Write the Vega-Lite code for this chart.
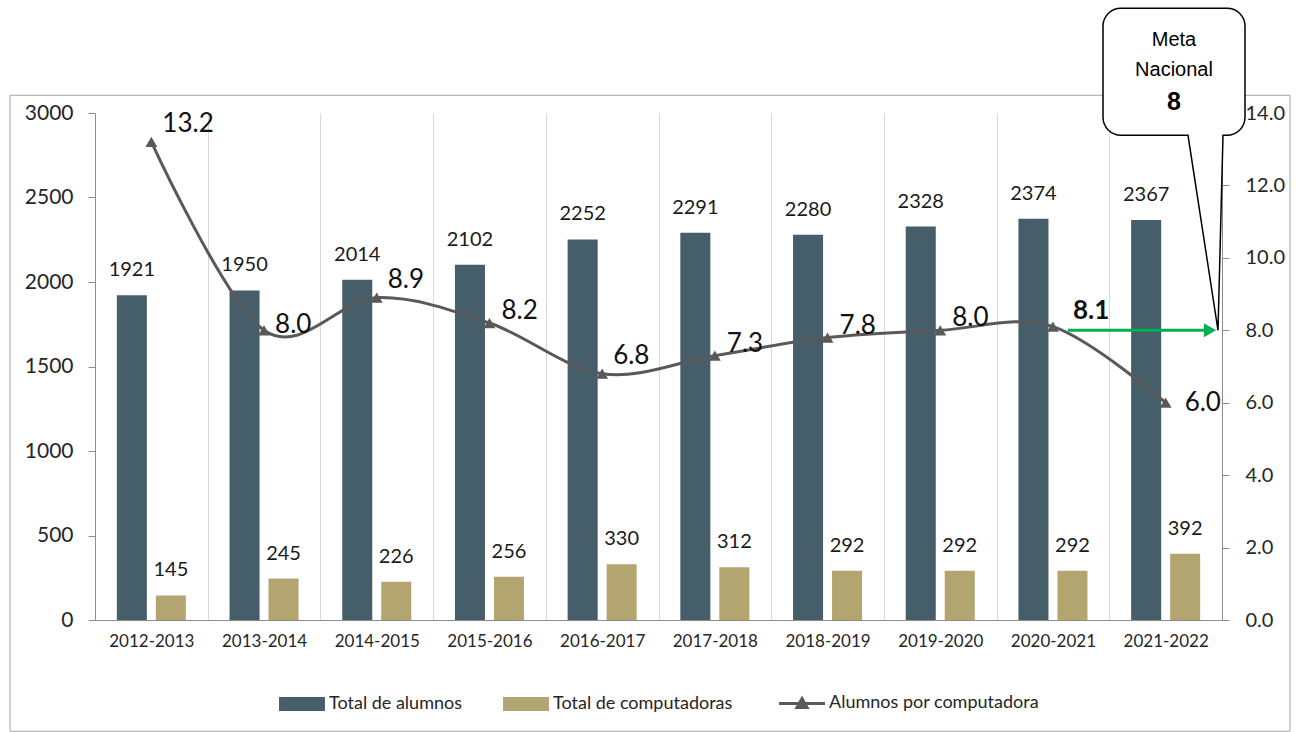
{
  "$schema": "https://vega.github.io/schema/vega-lite/v6.json",
  "width": 1127,
  "height": 507,
  "autosize": {"type": "none"},
  "padding": {"left": 95, "top": 113, "right": 77, "bottom": 112},
  "background": "#ffffff",
  "config": {"view": {"stroke": null}, "font": "Lato", "text": {"font": "Lato"}},
  "datasets": {
    "datos": [
      {"periodo": "2012-2013", "alumnos": 1921, "computadoras": 145, "ratio": 13.2},
      {"periodo": "2013-2014", "alumnos": 1950, "computadoras": 245, "ratio": 8.0},
      {"periodo": "2014-2015", "alumnos": 2014, "computadoras": 226, "ratio": 8.9},
      {"periodo": "2015-2016", "alumnos": 2102, "computadoras": 256, "ratio": 8.2},
      {"periodo": "2016-2017", "alumnos": 2252, "computadoras": 330, "ratio": 6.8},
      {"periodo": "2017-2018", "alumnos": 2291, "computadoras": 312, "ratio": 7.3},
      {"periodo": "2018-2019", "alumnos": 2280, "computadoras": 292, "ratio": 7.8},
      {"periodo": "2019-2020", "alumnos": 2328, "computadoras": 292, "ratio": 8.0},
      {"periodo": "2020-2021", "alumnos": 2374, "computadoras": 292, "ratio": 8.1},
      {"periodo": "2021-2022", "alumnos": 2367, "computadoras": 392, "ratio": 6.0}
    ],
    "meta": [
      {"periodo": "2021-2022", "desde": "2020-2021", "hasta": "2021-2022", "ratio": 8}
    ]
  },
  "data": {"name": "datos"},
  "encoding": {
    "x": {
      "field": "periodo", "type": "nominal", "sort": null, "title": null,
      "scale": {"domain": ["2012-2013","2013-2014","2014-2015","2015-2016","2016-2017","2017-2018","2018-2019","2019-2020","2020-2021","2021-2022"], "paddingInner": 0, "paddingOuter": 0},
      "axis": {"tickBand": "extent", "grid": true, "gridColor": "#D9D9D9", "gridWidth": 1, "ticks": false, "tickSize": 0, "domainColor": "#8C8C8C", "labelAngle": 0, "labelFontSize": 17, "labelColor": "#262626", "labelPadding": 13}
    }
  },
  "layer": [
    {
      "transform": [{"fold": ["alumnos", "computadoras"], "as": ["serie", "valor"]}],
      "encoding": {
        "xOffset": {"field": "serie", "type": "nominal", "scale": {"domain": ["alumnos", "computadoras"], "paddingInner": 0.23, "paddingOuter": 0.56}},
        "y": {
          "field": "valor", "type": "quantitative", "title": null,
          "scale": {"domain": [0, 3000], "nice": false},
          "axis": {"orient": "left", "values": [0,500,1000,1500,2000,2500,3000], "format": "d", "grid": false, "domainColor": "#8C8C8C", "tickColor": "#8C8C8C", "tickSize": 7, "labelPadding": 15, "labelFontSize": 21, "labelColor": "#262626"}
        }
      },
      "layer": [
        {
          "mark": {"type": "bar"},
          "encoding": {
            "color": {
              "field": "serie", "type": "nominal",
              "scale": {"domain": ["alumnos", "computadoras", "ratio"], "range": ["#465E69", "#B2A56F", "#595959"]},
              "legend": {
                "orient": "none", "legendX": 198, "legendY": 581, "direction": "horizontal", "title": null,
                "labelFontSize": 18, "labelColor": "#262626", "labelFont": "Lato", "labelLimit": 400,
                "symbolSize": 784, "labelOffset": 18, "columnPadding": 40,
                "labelExpr": "datum.value === 'alumnos' ? 'Total de alumnos' : datum.value === 'computadoras' ? 'Total de computadoras' : 'Alumnos por computadora'",
                "encode": {
                  "symbols": {
                    "update": {
                      "shape": {"signal": "datum.value === 'ratio' ? 'M-1.64,0L1.64,0M-0.36,0.3L0,-0.34L0.36,0.3Z' : 'M-1.64,-0.5L1.64,-0.5L1.64,0.5L-1.64,0.5Z'"},
                      "fill": {"signal": "datum.value === 'alumnos' ? '#465E69' : datum.value === 'computadoras' ? '#B2A56F' : '#595959'"},
                      "stroke": {"signal": "datum.value === 'ratio' ? '#595959' : 'transparent'"},
                      "strokeWidth": {"signal": "datum.value === 'ratio' ? 3 : 0"},
                      "opacity": {"value": 1},
                      "fillOpacity": {"value": 1},
                      "strokeOpacity": {"value": 1}
                    }
                  }
                }
              }
            }
          }
        },
        {
          "mark": {"type": "text", "dy": -25, "fontSize": 20, "baseline": "middle", "align": "center", "color": "#1a1a1a"},
          "encoding": {"text": {"field": "valor", "type": "quantitative", "format": "d"}}
        }
      ]
    },
    {
      "encoding": {
        "y": {
          "field": "ratio", "type": "quantitative", "title": null,
          "scale": {"domain": [0, 14], "nice": false},
          "axis": {"orient": "right", "values": [0,2,4,6,8,10,12,14], "format": ".1f", "grid": false, "domainColor": "#8C8C8C", "tickColor": "#8C8C8C", "tickSize": 7, "labelPadding": 16, "labelFontSize": 20, "labelColor": "#262626"}
        }
      },
      "layer": [
        {
          "mark": {"type": "line", "interpolate": "cardinal", "strokeWidth": 3},
          "encoding": {"color": {"datum": "ratio", "type": "nominal"}}
        },
        {
          "mark": {"type": "point", "shape": "triangle-up", "filled": true, "size": 140, "opacity": 1},
          "encoding": {"color": {"datum": "ratio", "type": "nominal"}}
        },
        {
          "transform": [{"filter": {"field": "periodo", "oneOf": ["2012-2013", "2014-2015", "2016-2017"]}}],
          "mark": {"type": "text", "align": "left", "baseline": "middle", "dx": 11, "dy": -18, "fontSize": 26, "color": "#111111"},
          "encoding": {"text": {"field": "ratio", "type": "quantitative", "format": ".1f"}}
        },
        {
          "transform": [{"filter": {"field": "periodo", "oneOf": ["2015-2016", "2017-2018", "2018-2019", "2019-2020"]}}],
          "mark": {"type": "text", "align": "left", "baseline": "middle", "dx": 12, "dy": -12, "fontSize": 26, "color": "#111111"},
          "encoding": {"text": {"field": "ratio", "type": "quantitative", "format": ".1f"}}
        },
        {
          "transform": [{"filter": {"field": "periodo", "oneOf": ["2013-2014"]}}],
          "mark": {"type": "text", "align": "left", "baseline": "middle", "dx": 11, "dy": -5, "fontSize": 26, "color": "#111111"},
          "encoding": {"text": {"field": "ratio", "type": "quantitative", "format": ".1f"}}
        },
        {
          "transform": [{"filter": {"field": "periodo", "oneOf": ["2020-2021"]}}],
          "mark": {"type": "text", "align": "left", "baseline": "middle", "dx": 20, "dy": -16, "fontSize": 26, "fontWeight": "bold", "color": "#111111"},
          "encoding": {"text": {"field": "ratio", "type": "quantitative", "format": ".1f"}}
        },
        {
          "transform": [{"filter": {"field": "periodo", "oneOf": ["2021-2022"]}}],
          "mark": {"type": "text", "align": "left", "baseline": "middle", "dx": 19, "dy": 0, "fontSize": 26, "color": "#111111"},
          "encoding": {"text": {"field": "ratio", "type": "quantitative", "format": ".1f"}}
        },
        {
          "data": {"name": "meta"},
          "mark": {"type": "rule", "color": "#00B050", "strokeWidth": 3, "xOffset": 15, "x2Offset": 39},
          "encoding": {
            "x": {"field": "desde", "type": "nominal", "title": null, "scale": {"domain": ["2012-2013","2013-2014","2014-2015","2015-2016","2016-2017","2017-2018","2018-2019","2019-2020","2020-2021","2021-2022"], "paddingInner": 0, "paddingOuter": 0}},
            "x2": {"field": "hasta"}
          }
        },
        {
          "data": {"name": "meta"},
          "mark": {"type": "point", "shape": "triangle-right", "size": 200, "filled": true, "color": "#00B050", "opacity": 1, "xOffset": -12},
          "encoding": {
            "x": {"field": "periodo", "type": "nominal", "title": null, "bandPosition": 1, "scale": {"domain": ["2012-2013","2013-2014","2014-2015","2015-2016","2016-2017","2017-2018","2018-2019","2019-2020","2020-2021","2021-2022"], "paddingInner": 0, "paddingOuter": 0}}
          }
        },
        {
          "data": {"name": "meta"},
          "mark": {"type": "point", "shape": "M-1212,-235L68,-235L68,401L-1212,401Z", "size": 4, "filled": false, "stroke": "#A6A6A6", "strokeWidth": 1, "opacity": 1},
          "encoding": {
            "x": {"field": "periodo", "type": "nominal", "title": null, "bandPosition": 1, "scale": {"domain": ["2012-2013","2013-2014","2014-2015","2015-2016","2016-2017","2017-2018","2018-2019","2019-2020","2020-2021","2021-2022"], "paddingInner": 0, "paddingOuter": 0}}
          }
        },
        {
          "data": {"name": "meta"},
          "mark": {"type": "point", "shape": "M-101,-322L5,-322A18,18,0,0,1,23,-304L23,-213A18,18,0,0,1,5,-195L1,-195L-4,0L-34,-195L-101,-195A18,18,0,0,1,-119,-213L-119,-304A18,18,0,0,1,-101,-322Z", "size": 4, "filled": true, "fill": "#ffffff", "stroke": "#000000", "strokeWidth": 1.5, "opacity": 1, "fillOpacity": 1, "strokeOpacity": 1},
          "encoding": {
            "x": {"field": "periodo", "type": "nominal", "title": null, "bandPosition": 1, "scale": {"domain": ["2012-2013","2013-2014","2014-2015","2015-2016","2016-2017","2017-2018","2018-2019","2019-2020","2020-2021","2021-2022"], "paddingInner": 0, "paddingOuter": 0}}
          }
        },
        {
          "data": {"name": "meta"},
          "mark": {"type": "text", "text": ["Meta", "Nacional"], "font": "Liberation Sans", "fontSize": 20, "lineHeight": 30, "align": "center", "baseline": "middle", "dx": -48, "dy": -290, "color": "#000000"},
          "encoding": {
            "x": {"field": "periodo", "type": "nominal", "title": null, "bandPosition": 1, "scale": {"domain": ["2012-2013","2013-2014","2014-2015","2015-2016","2016-2017","2017-2018","2018-2019","2019-2020","2020-2021","2021-2022"], "paddingInner": 0, "paddingOuter": 0}}
          }
        },
        {
          "data": {"name": "meta"},
          "mark": {"type": "text", "font": "Liberation Sans", "fontSize": 25, "fontWeight": "bold", "align": "center", "baseline": "middle", "dx": -48, "dy": -228, "color": "#000000"},
          "encoding": {
            "x": {"field": "periodo", "type": "nominal", "title": null, "bandPosition": 1, "scale": {"domain": ["2012-2013","2013-2014","2014-2015","2015-2016","2016-2017","2017-2018","2018-2019","2019-2020","2020-2021","2021-2022"], "paddingInner": 0, "paddingOuter": 0}},
            "text": {"field": "ratio", "type": "quantitative", "format": "d"}
          }
        }
      ]
    }
  ],
  "resolve": {"scale": {"y": "independent"}}
}
